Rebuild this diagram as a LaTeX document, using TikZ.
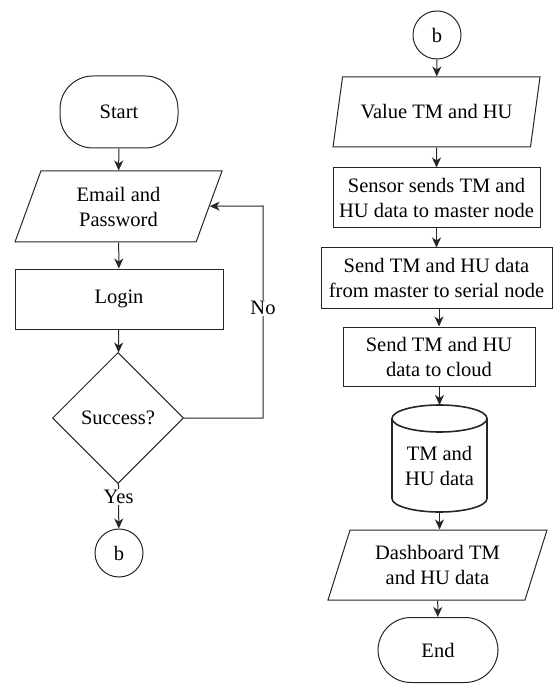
\documentclass[tikz,border=0pt]{standalone}
\usepackage{fontspec}
\setmainfont{Liberation Serif}
\usetikzlibrary{shapes.geometric,arrows.meta,calc}
\begin{document}
\begin{tikzpicture}[x=1pt,y=-1pt,
  every node/.style={font=\fontsize{20.5}{25}\selectfont, text=black, align=center, inner sep=1pt},
  ln/.style={draw=black!85, line width=1pt},
  arr/.style={ln, -{Stealth[length=10pt,width=9pt,inset=3pt]}},
  term/.style={ln, rectangle, rounded corners=33pt, minimum width=118pt, minimum height=#1},
  term/.default=72pt,
  io/.style={ln, trapezium, trapezium stretches body, minimum height=71pt},
  proc/.style={ln, rectangle, minimum height=60pt},
  conn/.style={ln, circle, minimum size=48pt, inner sep=0pt},
  dec/.style={ln, diamond, aspect=1, minimum width=131pt, minimum height=131pt, inner sep=0pt}
]
\useasboundingbox (0,0) rectangle (557,684);

% left column
\node[term] (start) at (119,112) {Start};
\node[io, trapezium left angle=58, trapezium right angle=122, minimum width=207pt] (email) at (118.5,206.5) {Email and\\Password};
\node[proc, minimum width=208pt] (login) at (119,299) {Login};
\node[dec] (dia) at (118,418) {Success?};
\node[conn] (b1) at (119,553) {b};
\coordinate (fb) at (263,206);

\draw[arr] (start) -- (email);
\draw[arr] (email) -- (login);
\draw[arr] (login) -- (dia);
\draw[arr] (dia) -- node[pos=0.3, fill=white, inner sep=1pt] {Yes} (b1);
\draw[arr] (dia.east) -| node[pos=0.76, fill=white, inner sep=1pt] {No} (fb) -- (email);

% right column
\node[conn] (b2) at (437,35) {b};
\node[io, trapezium left angle=60, trapezium right angle=120, minimum width=207pt, minimum height=70pt] (val) at (436.5,112) {Value TM and HU};
\node[proc, minimum width=207pt] (sensor) at (436.5,198) {Sensor sends TM and\\HU data to master node};
\node[proc, minimum width=231pt] (master) at (436.5,278) {Send TM and HU data\\from master to serial node};
\node[proc, minimum width=192pt, minimum height=59pt] (cloud) at (439,356.5) {Send TM and HU\\data to cloud};
\node[minimum width=95pt] (cyl) at (439.5,466) {TM and\\HU data};
\coordinate (cyltop) at (439.5,405);
\coordinate (cylbot) at (439.5,512);
\draw[draw=black!85, line width=1.6pt] ($(cyltop)+(0,13.5)$) ellipse [x radius=47.5, y radius=13.5];
\draw[draw=black!85, line width=1.6pt] ($(cyltop)+(-47.5,13.5)$) -- ($(cylbot)+(-47.5,-13.5)$)
  arc[start angle=180, end angle=0, x radius=47.5, y radius=13.5] -- ($(cyltop)+(47.5,13.5)$);
\node[io, trapezium left angle=62, trapezium right angle=118, minimum width=219pt, minimum height=70pt] (dash) at (437.5,565) {Dashboard TM\\and HU data};
\node[term=65pt, minimum width=120pt] (end) at (438,650) {End};

\draw[arr] (b2) -- (val);
\draw[arr] (val) -- (sensor);
\draw[arr] (sensor) -- (master);
\draw[arr] (master.south -| cloud.north) -- (cloud.north);
\draw[arr] (cloud.south -| cyltop) -- (cyltop);
\draw[arr] (cylbot) -- (cylbot |- dash.north);
\draw[arr] (dash) -- (end);
\end{tikzpicture}
\end{document}
